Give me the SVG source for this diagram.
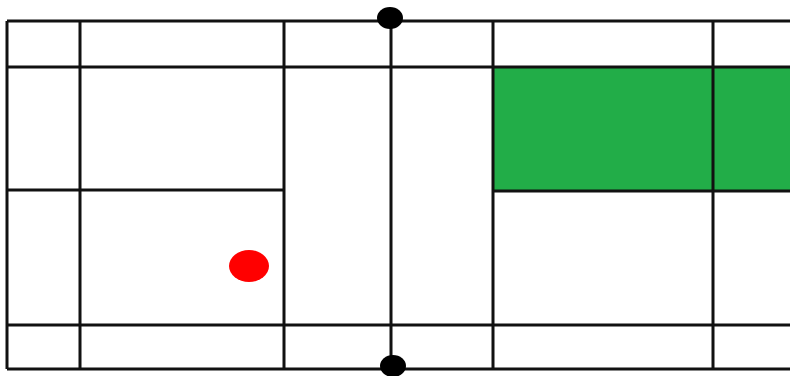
<svg xmlns="http://www.w3.org/2000/svg" width="790" height="376" viewBox="0 0 790 376">
<style>
.l{stroke:#111;stroke-width:3;fill:none}
</style>
<rect width="790" height="376" fill="#fff"/>
<g id="green-zone"><rect x="493" y="67" width="297" height="124" fill="#22ad48"/></g>
<g id="court">
<line class="l" x1="7" y1="21" x2="790" y2="21"/>
<line class="l" x1="7" y1="67" x2="790" y2="67"/>
<line class="l" x1="7" y1="325" x2="790" y2="325"/>
<line class="l" x1="7" y1="369" x2="790" y2="369"/>
<line class="l" x1="7" y1="21" x2="7" y2="369"/>
<line class="l" x1="80" y1="21" x2="80" y2="369"/>
<line class="l" x1="284" y1="21" x2="284" y2="369"/>
<line class="l" x1="493" y1="21" x2="493" y2="369"/>
<line class="l" x1="713" y1="21" x2="713" y2="369"/>
<line class="l" x1="7" y1="190" x2="284" y2="190"/>
<line class="l" x1="493" y1="191" x2="790" y2="191"/>
</g>
<g id="net">
<line class="l" x1="391" y1="18" x2="391" y2="367"/>
<ellipse cx="390" cy="18" rx="13" ry="11" fill="#000"/>
<ellipse cx="393" cy="366" rx="13" ry="11" fill="#000"/>
</g>
<g id="player"><ellipse cx="249" cy="266" rx="20" ry="16" fill="#f00"/></g>
</svg>
